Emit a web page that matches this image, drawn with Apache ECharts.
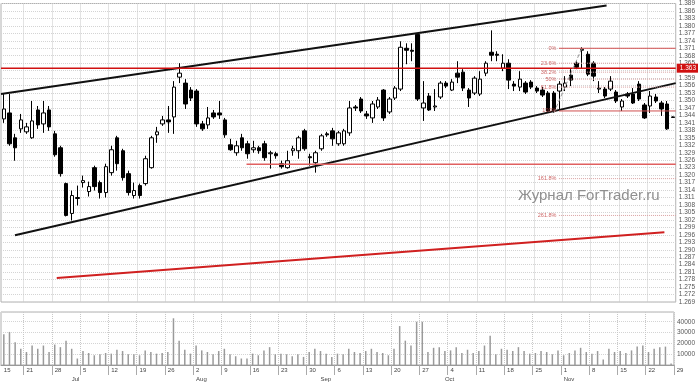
<!DOCTYPE html>
<html><head><meta charset="utf-8">
<script src="https://cdn.jsdelivr.net/npm/echarts@6/dist/echarts.min.js"></script>
<style>html,body{margin:0;padding:0;background:#fff}#c{width:698px;height:382px}</style>
</head><body><div id="c"></div>
<script>
const dates = [
'2010-06-15','2010-06-16','2010-06-17','2010-06-18',
'2010-06-21','2010-06-22','2010-06-23','2010-06-24','2010-06-25',
'2010-06-28','2010-06-29','2010-06-30','2010-07-01','2010-07-02',
'2010-07-05','2010-07-06','2010-07-07','2010-07-08','2010-07-09',
'2010-07-12','2010-07-13','2010-07-14','2010-07-15','2010-07-16',
'2010-07-19','2010-07-20','2010-07-21','2010-07-22','2010-07-23',
'2010-07-26','2010-07-27','2010-07-28','2010-07-29','2010-07-30',
'2010-08-02','2010-08-03','2010-08-04','2010-08-05','2010-08-06',
'2010-08-09','2010-08-10','2010-08-11','2010-08-12','2010-08-13',
'2010-08-16','2010-08-17','2010-08-18','2010-08-19','2010-08-20',
'2010-08-23','2010-08-24','2010-08-25','2010-08-26','2010-08-27',
'2010-08-30','2010-08-31','2010-09-01','2010-09-02','2010-09-03',
'2010-09-06','2010-09-07','2010-09-08','2010-09-09','2010-09-10',
'2010-09-13','2010-09-14','2010-09-15','2010-09-16','2010-09-17',
'2010-09-20','2010-09-21','2010-09-22','2010-09-23','2010-09-24',
'2010-09-27','2010-09-28','2010-09-29','2010-09-30','2010-10-01',
'2010-10-04','2010-10-05','2010-10-06','2010-10-07','2010-10-08',
'2010-10-11','2010-10-12','2010-10-13','2010-10-14','2010-10-15',
'2010-10-18','2010-10-19','2010-10-20','2010-10-21','2010-10-22',
'2010-10-25','2010-10-26','2010-10-27','2010-10-28','2010-10-29',
'2010-11-01','2010-11-02','2010-11-03','2010-11-04','2010-11-05',
'2010-11-08','2010-11-09','2010-11-10','2010-11-11','2010-11-12',
'2010-11-15','2010-11-16','2010-11-17','2010-11-18','2010-11-19',
'2010-11-22','2010-11-23','2010-11-24','2010-11-25','2010-11-26'];

const opens = [1.3426,1.3450,1.3350,1.3386,1.3374,1.3350,1.3462,1.3406,1.3462,1.3366,
1.3310,1.3166,1.3046,1.3106,1.3170,1.3134,1.3230,1.3170,1.3130,1.3210,
1.3350,1.3298,1.3206,1.3118,1.3158,1.3166,1.3230,1.3362,1.3406,1.3422,
1.3434,1.3594,1.3570,1.3542,1.3538,1.3406,1.3402,1.3450,1.3450,1.3422,
1.3322,1.3290,1.3350,1.3326,1.3302,1.3310,1.3326,1.3286,1.3286,1.3246,
1.3230,1.3298,1.3298,1.3378,1.3274,1.3250,1.3306,1.3366,1.3378,1.3326,
1.3326,1.3370,1.3474,1.3506,1.3446,1.3430,1.3474,1.3542,1.3454,1.3510,
1.3546,1.3710,1.3702,1.3766,1.3470,1.3518,1.3474,1.3514,1.3570,1.3542,
1.3610,1.3614,1.3542,1.3530,1.3526,1.3610,1.3694,1.3686,1.3630,1.3650,
1.3566,1.3554,1.3570,1.3574,1.3550,1.3542,1.3530,1.3530,1.3538,1.3554,
1.3602,1.3650,1.3702,1.3686,1.3650,1.3546,1.3546,1.3546,1.3534,1.3474,
1.3526,1.3526,1.3566,1.3482,1.3478,1.3514,1.3490,1.3486,1.3434];
const closes = [1.3466,1.3326,1.3310,1.3422,1.3394,1.3418,1.3402,1.3450,1.3394,1.3282,
1.3206,1.3038,1.3118,1.3110,1.3178,1.3154,1.3154,1.3130,1.3234,1.3302,
1.3246,1.3190,1.3130,1.3138,1.3118,1.3266,1.3350,1.3374,1.3422,1.3414,
1.3554,1.3610,1.3486,1.3510,1.3406,1.3386,1.3430,1.3434,1.3442,1.3362,
1.3302,1.3318,1.3310,1.3286,1.3310,1.3298,1.3270,1.3290,1.3278,1.3234,
1.3258,1.3306,1.3350,1.3306,1.3270,1.3290,1.3358,1.3362,1.3346,1.3370,
1.3378,1.3470,1.3470,1.3458,1.3438,1.3486,1.3502,1.3430,1.3506,1.3550,
1.3714,1.3702,1.3698,1.3506,1.3490,1.3462,1.3478,1.3570,1.3558,1.3574,
1.3594,1.3550,1.3510,1.3590,1.3586,1.3650,1.3682,1.3682,1.3650,1.3582,
1.3558,1.3586,1.3534,1.3554,1.3538,1.3522,1.3458,1.3458,1.3566,1.3570,
1.3582,1.3634,1.3706,1.3606,1.3598,1.3550,1.3518,1.3578,1.3498,1.3498,
1.3518,1.3490,1.3506,1.3430,1.3518,1.3498,1.3466,1.3386,1.3432];
const lows = [1.3410,1.3318,1.3258,1.3370,1.3366,1.3346,1.3386,1.3370,1.3378,1.3274,
1.3194,1.3034,1.3018,1.3078,1.3150,1.3114,1.3138,1.3106,1.3110,1.3198,
1.3218,1.3178,1.3118,1.3106,1.3106,1.3158,1.3226,1.3330,1.3398,1.3370,
1.3366,1.3570,1.3466,1.3498,1.3394,1.3378,1.3386,1.3426,1.3426,1.3350,
1.3298,1.3278,1.3298,1.3266,1.3290,1.3286,1.3258,1.3226,1.3266,1.3226,
1.3226,1.3278,1.3266,1.3298,1.3238,1.3210,1.3298,1.3354,1.3318,1.3318,
1.3318,1.3358,1.3458,1.3450,1.3426,1.3410,1.3466,1.3418,1.3446,1.3502,
1.3538,1.3646,1.3658,1.3498,1.3418,1.3458,1.3458,1.3506,1.3550,1.3538,
1.3570,1.3538,1.3474,1.3522,1.3518,1.3598,1.3658,1.3658,1.3618,1.3546,
1.3538,1.3538,1.3526,1.3546,1.3530,1.3514,1.3454,1.3450,1.3466,1.3538,
1.3558,1.3626,1.3630,1.3598,1.3578,1.3530,1.3510,1.3538,1.3490,1.3458,
1.3510,1.3486,1.3498,1.3426,1.3450,1.3490,1.3438,1.3382,1.3430];
const highs = [1.3526,1.3526,1.3366,1.3446,1.3410,1.3498,1.3478,1.3498,1.3478,1.3378,
1.3318,1.3170,1.3138,1.3158,1.3198,1.3174,1.3238,1.3178,1.3246,1.3318,
1.3358,1.3306,1.3218,1.3170,1.3166,1.3278,1.3358,1.3394,1.3438,1.3478,
1.3578,1.3650,1.3586,1.3554,1.3546,1.3418,1.3474,1.3462,1.3498,1.3430,
1.3346,1.3338,1.3366,1.3338,1.3338,1.3318,1.3338,1.3298,1.3294,1.3258,
1.3298,1.3318,1.3358,1.3386,1.3286,1.3298,1.3366,1.3374,1.3390,1.3378,
1.3386,1.3498,1.3482,1.3514,1.3458,1.3498,1.3514,1.3546,1.3514,1.3558,
1.3738,1.3730,1.3730,1.3770,1.3578,1.3530,1.3546,1.3578,1.3578,1.3586,
1.3658,1.3626,1.3550,1.3598,1.3618,1.3658,1.3782,1.3698,1.3686,1.3666,
1.3578,1.3618,1.3578,1.3582,1.3558,1.3554,1.3538,1.3538,1.3578,1.3598,
1.3626,1.3658,1.3714,1.3698,1.3658,1.3578,1.3554,1.3598,1.3542,1.3506,
1.3534,1.3550,1.3578,1.3490,1.3538,1.3526,1.3498,1.3498,1.3436];
const volumes = [28500,30600,21000,15000,12000,18000,15000,18000,12000,18900,
16500,22500,15000,6000,12900,11100,9000,10000,11100,10500,
14100,12900,9900,9900,9000,13500,12000,10500,11100,12000,
43200,22500,14100,10500,18000,13500,12000,9900,12900,15000,
9900,8100,6000,6000,10500,9000,13500,16500,9900,10500,
9900,8100,9900,7500,12000,15000,12900,10500,7500,10500,
9900,15000,12000,11100,12900,15000,12000,11100,9000,15000,
36000,22500,18000,40000,40000,12000,15900,16500,12900,13500,
16500,11100,14100,11100,12900,18000,27000,9900,15000,14100,
12900,16500,12900,10500,11100,12900,12000,9900,13500,9000,
11100,13500,15900,12000,10500,12900,5100,15000,12000,12900,
11100,13500,17100,18000,12000,15000,16500,17000,1500];

const priceTicks = {min: 1.269, max: 1.389, step: 0.003};
const volumeTicks = {min: 0, max: 49000, step: 10000};
const monthNames = ['Jan','Feb','Mar','Apr','May','Jun','Jul','Aug','Sep','Oct','Nov','Dec'];
const lastWeekLabel = '29';

// drawn analysis lines: [bar index, price]
const upperChannel = [[-0.5, 1.3526], [106.3, 1.3882]];
const lowerChannel = [[1.96, 1.2958], [118.5, 1.3570]];
const lowerRedTrend = [[9.33, 1.2786], [116.5, 1.2970]];
const resistanceLine = [[-0.5, 1.3630], [118.5, 1.3630]];
const supportLine = [[42.8, 1.3244], [118.5, 1.3244]];
const fibAnchor = [[97, 1.3450], [102, 1.3714]];
const fibStart = 97.9, fibEnd = 118.5;
const fibPrices = [1.3710, 1.3650, 1.3614, 1.3586, 1.3554, 1.3458, 1.3186, 1.3038];
const fibNames = ['0%','23.6%','38.2%','50%','61.8%','100%','161.8%','261.8%'];
const fibSolid = [true, false, false, false, false, true, false, false];

const N = dates.length;
const dayOf = d => parseInt(d.slice(8), 10);
const monthOf = d => parseInt(d.slice(5, 7), 10);
const isMonday = i => new Date(dates[i] + 'T00:00:00Z').getUTCDay() === 1;
const weekTick = (i) => i === 0 || isMonday(i);
const monthStart = (i) => i > 0 && monthOf(dates[i]) !== monthOf(dates[i - 1]);

const candleData = dates.map((d, i) => [opens[i], closes[i], lows[i], highs[i]]);
const FONT = 'Liberation Sans, Arial, sans-serif';

const series = [
  {
    type: 'candlestick', xAxisIndex: 0, yAxisIndex: 0, data: candleData, barWidth: 4,
    itemStyle: {color: '#ffffff', color0: '#000000', borderColor: '#000000', borderColor0: '#000000', borderWidth: 1},
    z: 5
  },
  {
    type: 'bar', xAxisIndex: 2, yAxisIndex: 1, data: volumes, barWidth: 1.5,
    itemStyle: {color: '#9a9a9a'}
  }
];
function addLine(data, style, extra) {
  series.push(Object.assign({
    type: 'line', xAxisIndex: 1, yAxisIndex: 0, data: data, symbol: 'none',
    lineStyle: style, silent: true, z: 6
  }, extra || {}));
}
addLine(upperChannel, {color: '#111', width: 2});
addLine(lowerChannel, {color: '#111', width: 2});
addLine(lowerRedTrend, {color: '#d02020', width: 2});
addLine(resistanceLine, {color: '#d01010', width: 1.5}, {
  endLabel: {show: true, formatter: () => resistanceLine[0][1].toFixed(3), backgroundColor: '#d01010',
    color: '#fff', fontSize: 6.5, fontFamily: FONT, padding: [1, 3], distance: 1}
});
addLine(supportLine, {color: '#e06060', width: 1.5});
addLine(fibAnchor, {color: '#999', width: 1, type: 'dashed'});
const fibLabelPts = [];
fibPrices.forEach((p, k) => {
  addLine([[fibStart, p], [fibEnd, p]], fibSolid[k] ? {color: '#d05050', width: 1} : {color: '#d8a0a0', width: 1, type: 'dotted'});
  fibLabelPts.push({value: [fibStart, p], name: fibNames[k]});
});
series.push({
  type: 'scatter', xAxisIndex: 1, yAxisIndex: 0, data: fibLabelPts, symbolSize: 1,
  itemStyle: {color: 'rgba(0,0,0,0)'}, silent: true, z: 7,
  label: {show: true, position: 'left', distance: 2, formatter: p => p.name, color: '#c04040', fontSize: 5.5, fontFamily: FONT}
});

const option = {
  animation: false,
  backgroundColor: '#ffffff',
  grid: [
    {left: 1, top: 2, width: 678, height: 300, show: true, borderColor: '#b0b0b0', borderWidth: 1},
    {left: 1, top: 312, width: 678, height: 54, show: true, borderColor: '#b0b0b0', borderWidth: 1}
  ],
  xAxis: [
    {type: 'category', gridIndex: 0, data: dates, boundaryGap: true,
      axisLine: {show: false}, axisTick: {show: false}, axisLabel: {show: false},
      splitLine: {show: true, interval: (i) => isMonday(i), lineStyle: {color: '#c8c8c8', type: 'dotted'}}},
    {type: 'value', gridIndex: 0, min: -0.5, max: N - 0.5, show: false},
    {type: 'category', gridIndex: 1, data: dates, boundaryGap: true, position: 'bottom',
      axisLine: {show: true, lineStyle: {color: '#999'}},
      axisTick: {show: true, interval: (i) => isMonday(i), length: 10, lineStyle: {color: '#aaa'}},
      axisLabel: {show: true, interval: (i) => weekTick(i), formatter: (v) => String(dayOf(v)),
        fontSize: 6, color: '#444', fontFamily: FONT, align: 'left', margin: 2},
      splitLine: {show: true, interval: (i) => isMonday(i), lineStyle: {color: '#c8c8c8', type: 'dotted'}}},
    {type: 'category', gridIndex: 1, data: dates, boundaryGap: true, position: 'bottom', offset: 9,
      axisLine: {show: false}, axisTick: {show: false},
      axisLabel: {show: true, interval: (i) => monthStart(i), formatter: (v) => monthNames[monthOf(v) - 1],
        fontSize: 6, color: '#444', fontFamily: FONT, align: 'left', margin: 2}}
  ],
  yAxis: [
    {type: 'value', gridIndex: 0, position: 'right', min: priceTicks.min, max: priceTicks.max, interval: priceTicks.step,
      axisLine: {show: false}, axisTick: {show: false},
      axisLabel: {fontSize: 6.5, color: '#555', fontFamily: FONT, margin: 3, formatter: v => v.toFixed(3)},
      splitLine: {show: true, lineStyle: {color: '#d4d4d4', type: 'dotted'}}},
    {type: 'value', gridIndex: 1, position: 'right', min: volumeTicks.min, max: volumeTicks.max, interval: volumeTicks.step,
      axisLine: {show: false}, axisTick: {show: false},
      axisLabel: {fontSize: 6.5, color: '#555', fontFamily: FONT, margin: 3, showMinLabel: false, showMaxLabel: false,
        formatter: v => String(v)},
      splitLine: {show: true, lineStyle: {color: '#d4d4d4', type: 'dotted'}}}
  ],
  series: series
};
const chart = echarts.init(document.getElementById('c'), null, {renderer: 'canvas'});
chart.setOption(option);
const xEnd = chart.convertToPixel({xAxisIndex: 1}, N - 0.5);
const yBottom = chart.convertToPixel({yAxisIndex: 1}, 0);
chart.setOption({
  graphic: [
    {type: 'text', left: 518, top: 188, silent: true,
      style: {text: 'Журнал ForTrader.ru', fill: '#8f8f8f', font: '15px ' + FONT}},
    {type: 'text', x: xEnd + 1, y: yBottom + 2, silent: true,
      style: {text: lastWeekLabel, fill: '#444', font: '6px ' + FONT}}
  ]
});
</script></body></html>
